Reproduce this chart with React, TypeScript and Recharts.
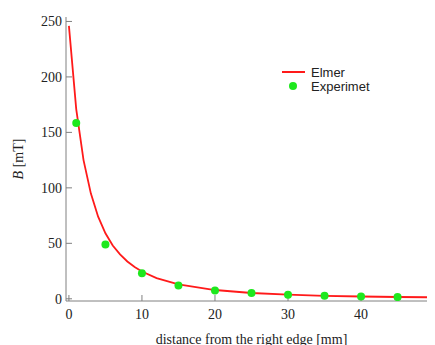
import { ComposedChart, Line, Scatter, XAxis, YAxis } from 'recharts'

// Elmer simulation curve
const elmerX = [0, 1, 2, 3, 4, 5, 6, 7, 8, 9, 10, 12, 15, 20, 25, 30, 35, 40, 45, 50]
const elmerB = [246, 171, 125, 95, 74, 59, 48, 40, 33.6, 28.6, 24.6, 18.6, 13, 7.9, 5.2, 3.7, 2.7, 2.05, 1.6, 1.3]

// measurements
const expX = [1, 5, 10, 15, 20, 25, 30, 35, 40, 45, 50]
const expB = [158.5, 49, 23, 12, 7.5, 5.1, 3.6, 2.7, 2.1, 1.5, 1.2]

const xTicks = [0, 10, 20, 30, 40, 50]
const yTicks = [0, 50, 100, 150, 200, 250]

const elmerData = elmerX.map((x, i) => ({ x, b: elmerB[i] }))
const expData = expX.map((x, i) => ({ x, b: expB[i] }))

const serif = 'Liberation Serif, Times New Roman, serif'
const sans = 'Liberation Sans, Arial, sans-serif'
const axisColor = '#808080'

function LegendBox() {
  return (
    <svg
      width={130}
      height={36}
      style={{ position: 'absolute', left: 274, top: 56, fontFamily: sans, fontSize: 13 }}
    >
      <line x1={0} y1={8} x2={23} y2={8} stroke="#ff1a1a" strokeWidth={2} />
      <text x={29} y={12.5} fill="#222">Elmer</text>
      <circle cx={11} cy={22} r={4} fill="#1ee81e" />
      <text x={29} y={26.5} fill="#222">Experimet</text>
    </svg>
  )
}

function YLabel() {
  return (
    <text
      x={10}
      y={151}
      transform="rotate(-90 10 151)"
      textAnchor="middle"
      dominantBaseline="central"
      fontFamily={serif}
      fontSize={14}
      fill="#222"
    >
      <tspan fontStyle="italic">B</tspan>
      <tspan> [mT]</tspan>
    </text>
  )
}

export default function App() {
  return (
    <div style={{ width: 427, height: 337, overflow: 'hidden', position: 'relative' }}>
      <ComposedChart width={460} height={337} margin={{ top: 9, right: 31, bottom: 0, left: 0 }}>
        <XAxis
          xAxisId="bottom"
          dataKey="x"
          type="number"
          domain={[-0.4, 50.4]}
          ticks={xTicks}
          allowDataOverflow
          height={44}
          tickSize={-6}
          tickMargin={14}
          stroke={axisColor}
          tick={{ fill: '#222', fontFamily: serif, fontSize: 14 }}
          label={{
            value: 'distance from the right edge [mm]',
            position: 'insideBottom',
            offset: 1,
            fill: '#222',
            fontFamily: serif,
            fontSize: 14,
          }}
        />
        <XAxis
          xAxisId="top"
          orientation="top"
          type="number"
          domain={[-0.4, 50.4]}
          ticks={xTicks}
          allowDataOverflow
          height={0}
          tickSize={-6}
          tick={false}
          stroke={axisColor}
        />
        <YAxis
          yAxisId="left"
          type="number"
          domain={[-2, 254]}
          ticks={yTicks}
          allowDataOverflow
          width={58}
          tickSize={-6}
          tickMargin={10}
          stroke={axisColor}
          tick={{ fill: '#222', fontFamily: serif, fontSize: 14 }}
          label={<YLabel />}
        />
        <Line
          xAxisId="bottom"
          yAxisId="left"
          data={elmerData}
          dataKey="b"
          type="linear"
          stroke="#ff1a1a"
          strokeWidth={1.8}
          dot={false}
          activeDot={false}
          isAnimationActive={false}
          name="Elmer"
        />
        <Scatter
          xAxisId="bottom"
          yAxisId="left"
          data={expData}
          dataKey="b"
          fill="#1ee81e"
          isAnimationActive={false}
          name="Experimet"
          shape={(p: any) => <circle cx={p.cx} cy={p.cy} r={4} fill="#1ee81e" />}
        />
      </ComposedChart>
      <LegendBox />
    </div>
  )
}
